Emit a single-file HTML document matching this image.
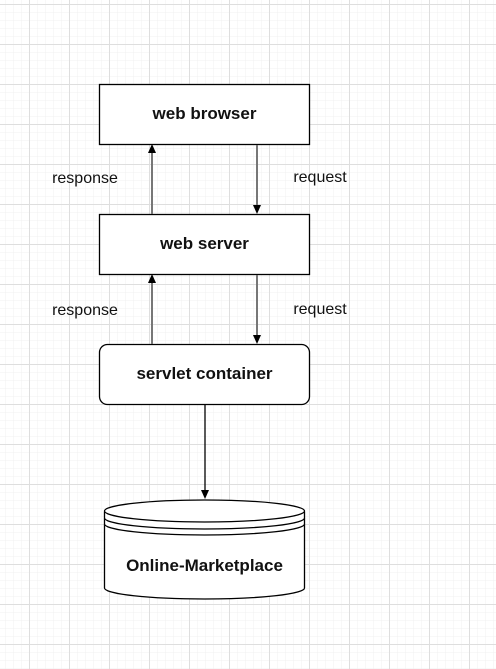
<!DOCTYPE html>
<html><head><style>
body{margin:0;width:496px;height:669px;overflow:hidden;background:#fff;}
</style></head><body>
<svg width="496" height="669" xmlns="http://www.w3.org/2000/svg" style="position:absolute;left:0;top:0">
<defs>
<pattern id="mn" width="8" height="8" patternUnits="userSpaceOnUse" x="5" y="4"><path d="M0 0H8M0 0V8" stroke="#f0f0f0" stroke-width="1" fill="none"/></pattern>
<pattern id="mj" width="40" height="40" patternUnits="userSpaceOnUse" x="29" y="4"><path d="M0 0.5H40M0.5 0V40" stroke="#dedede" stroke-width="1" fill="none"/></pattern>
</defs>
<rect width="496" height="669" fill="url(#mn)"/>
<rect width="496" height="669" fill="url(#mj)"/>
<g font-family="Liberation Sans, sans-serif" font-size="16" text-anchor="middle" fill="#111">
<rect x="99.5" y="84.5" width="210" height="60" fill="#fff" stroke="#000" stroke-width="1.3"/>
<text x="204.5" y="119" font-weight="bold" font-size="17">web browser</text>
<rect x="99.5" y="214.5" width="210" height="60" fill="#fff" stroke="#000" stroke-width="1.3"/>
<text x="204.5" y="249" font-weight="bold" font-size="17">web server</text>
<rect x="99.5" y="344.5" width="210" height="60" rx="8" fill="#fff" stroke="#000" stroke-width="1.3"/>
<text x="204.5" y="379" font-weight="bold" font-size="17">servlet container</text>
<g stroke="#777" stroke-width="2">
<line x1="152" y1="214" x2="152" y2="150"/>
<line x1="257" y1="145" x2="257" y2="208"/>
<line x1="152" y1="344" x2="152" y2="280"/>
<line x1="257" y1="275" x2="257" y2="338"/>
</g>
<g fill="#000">
<path d="M152 144l-4 9h8z"/><path d="M257 214l-4-9h8z"/>
<path d="M152 274l-4 9h8z"/><path d="M257 344l-4-9h8z"/>
<path d="M205 499l-4-9h8z"/>
</g>
<line x1="205" y1="405" x2="205" y2="492" stroke="#000" stroke-width="1.3"/>
<text x="85" y="183">response</text>
<text x="320" y="182">request</text>
<text x="85" y="315">response</text>
<text x="320" y="314">request</text>
<path d="M104.5 511.5V588A100 11 0 0 0 304.5 588V511.5" fill="#fff" stroke="#000" stroke-width="1.3"/>
<ellipse cx="204.5" cy="511" rx="100" ry="11" fill="#fff" stroke="#000" stroke-width="1.3"/>
<path d="M104.5 518A100 11 0 0 0 304.5 518M104.5 524A100 11 0 0 0 304.5 524" fill="none" stroke="#000" stroke-width="1.3"/>
<text x="204.5" y="571" font-weight="bold" font-size="17">Online-Marketplace</text>
</g>
</svg>
</body></html>
